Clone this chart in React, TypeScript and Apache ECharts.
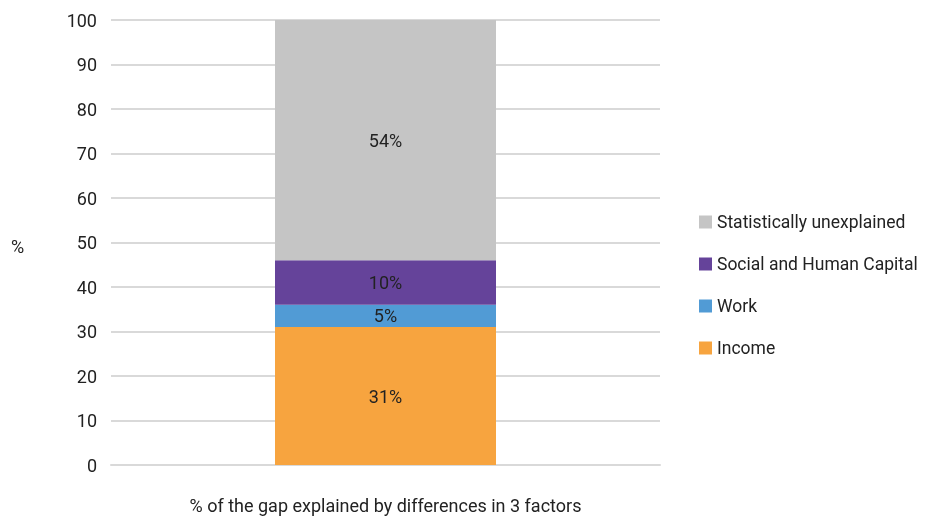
import React, { useEffect, useRef } from "react";
import * as echarts from "echarts";

const categories = ["% of the gap explained by differences in 3 factors"];
const seriesNames = ["Income", "Work", "Social and Human Capital", "Statistically unexplained"];
const seriesValues = [[31], [5], [10], [54]];
const seriesColors = ["#F7A43F", "#519BD5", "#65439A", "#C5C5C5"];
const yTicks = { min: 0, max: 100, interval: 10 };

const FONT = "Roboto, 'Noto Sans', sans-serif";
const FS = 18;

export default function App() {
  const ref = useRef<HTMLDivElement>(null);
  useEffect(() => {
    if (!ref.current) return;
    const chart = echarts.init(ref.current, undefined, { renderer: "svg" });
    chart.setOption({
      animation: false,
      textStyle: { fontFamily: FONT },
      grid: { left: 111, right: 265, top: 20, bottom: 52, containLabel: false },
      legend: {
        orient: "vertical",
        left: 694,
        top: 208,
        itemWidth: 13,
        itemHeight: 13,
        itemGap: 24,
        icon: "rect",
        data: [...seriesNames].reverse(),
        textStyle: { fontFamily: FONT, fontSize: 17.5, color: "#222" },
      },
      graphic: [
        {
          type: "text",
          left: 11,
          top: 237,
          style: { text: "%", fontFamily: FONT, fontSize: FS, fill: "#222" },
        },
      ],
      xAxis: {
        type: "category",
        data: categories,
        axisLine: { show: true, lineStyle: { color: "#D9D9D9", width: 2 } },
        axisTick: { show: false },
        axisLabel: { margin: 31, fontFamily: FONT, fontSize: FS, color: "#222" },
      },
      yAxis: {
        type: "value",
        min: yTicks.min,
        max: yTicks.max,
        interval: yTicks.interval,
        axisLine: { show: false },
        axisTick: { show: false },
        axisLabel: { margin: 14, fontFamily: FONT, fontSize: FS, color: "#222" },
        splitLine: { lineStyle: { color: "#D9D9D9", width: 2 } },
      },
      series: seriesNames.map((name, i) => ({
        name,
        type: "bar",
        stack: "total",
        barWidth: 221,
        data: seriesValues[i],
        itemStyle: { color: seriesColors[i] },
        label: {
          show: true,
          position: "inside",
          formatter: "{c}%",
          fontFamily: FONT,
          fontSize: FS,
          color: "#222",
        },
      })),
    });
    return () => chart.dispose();
  }, []);
  return (
    <div
      ref={ref}
      style={{ position: "fixed", left: 0, top: 0, width: 925, height: 517 }}
    />
  );
}
